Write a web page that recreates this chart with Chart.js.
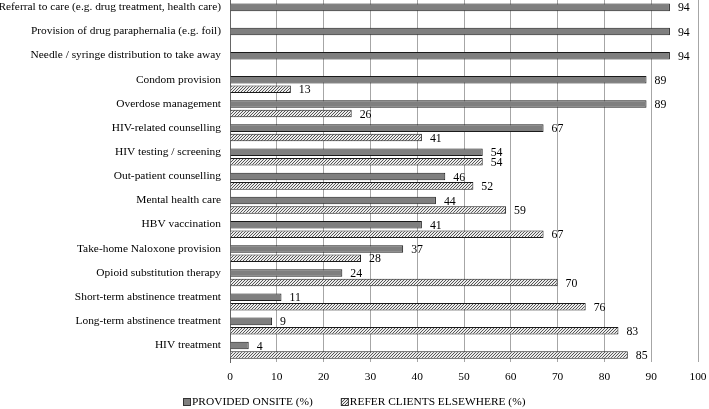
<!DOCTYPE html>
<html>
<head>
<meta charset="utf-8">
<script src="https://cdn.jsdelivr.net/npm/chart.js@4.4.1/dist/chart.umd.min.js"></script>
<style>
  body { margin: 0; background: #fff; }
  #wrap { width: 709px; height: 409px; }
</style>
</head>
<body>
<div id="wrap"><canvas id="chart" width="709" height="409"></canvas></div>
<script>
// services offered by low-threshold services, share of respondents
const categories = [
  'Referral to care (e.g. drug treatment, health care)',
  'Provision of drug paraphernalia (e.g. foil)',
  'Needle / syringe distribution to take away',
  'Condom provision',
  'Overdose management',
  'HIV-related counselling',
  'HIV testing / screening',
  'Out-patient counselling',
  'Mental health care',
  'HBV vaccination',
  'Take-home Naloxone provision',
  'Opioid substitution therapy',
  'Short-term abstinence treatment',
  'Long-term abstinence treatment',
  'HIV treatment'
];
const providedOnsite = [94, 94, 94, 89, 89, 67, 54, 46, 44, 41, 37, 24, 11, 9, 4];
const referElsewhere = [null, null, null, 13, 26, 41, 54, 52, 59, 67, 28, 70, 76, 83, 85];
const xTicks = [0, 10, 20, 30, 40, 50, 60, 70, 80, 90, 100];

const FONT = '"Liberation Serif", "Times New Roman", serif';
const FSIZE = 11.4;

// 3px tile, crisp "/" stripe
function hatchPattern() {
  const c = document.createElement('canvas');
  c.width = 3; c.height = 3;
  const g = c.getContext('2d');
  g.fillStyle = '#ececec';
  g.fillRect(0, 0, 3, 3);
  g.fillStyle = '#555';
  g.fillRect(0, 2, 1, 1);
  g.fillRect(1, 1, 1, 1);
  g.fillRect(2, 0, 1, 1);
  return g.createPattern(c, 'repeat');
}

// numbers at bar ends
const valueLabels = {
  id: 'valueLabels',
  afterDatasetsDraw(chart) {
    const ctx = chart.ctx;
    ctx.save();
    ctx.font = '11.8px ' + FONT;
    ctx.fillStyle = '#000';
    ctx.textBaseline = 'middle';
    chart.data.datasets.forEach((ds, i) => {
      chart.getDatasetMeta(i).data.forEach((bar, j) => {
        const v = ds.data[j];
        if (v == null) return;
        ctx.fillText(String(v), bar.x + 8, bar.y + 1);
      });
    });
    ctx.restore();
  }
};

// legend centred under the axis, small square keys close to the text
const bottomLegend = {
  id: 'bottomLegend',
  afterDraw(chart) {
    const ctx = chart.ctx;
    ctx.save();
    ctx.font = FSIZE + 'px ' + FONT;
    ctx.textBaseline = 'middle';
    const box = 8, gapText = 1, gapItem = 28;
    const items = chart.data.datasets.map(ds => ({ ds, w: box + gapText + ctx.measureText(ds.label).width }));
    const total = items.reduce((s, it) => s + it.w, 0) + gapItem * (items.length - 1);
    let x = Math.round((chart.width - total) / 2);
    const y = 402;
    items.forEach(it => {
      ctx.fillStyle = it.ds.backgroundColor;
      ctx.fillRect(x, y - 4, box, box);
      ctx.strokeStyle = '#333';
      ctx.lineWidth = 1;
      ctx.strokeRect(x + 0.5, y - 3.5, box - 1, box - 1);
      ctx.fillStyle = '#000';
      ctx.fillText(it.ds.label, x + box + gapText, y);
      x += it.w + gapItem;
    });
    ctx.restore();
  }
};

new Chart(document.getElementById('chart'), {
  type: 'bar',
  data: {
    labels: categories,
    datasets: [
      {
        label: 'PROVIDED ONSITE (%)',
        data: providedOnsite,
        backgroundColor: '#7f7f7f',
        borderColor: '#1a1a1a',
        borderWidth: 1,
        categoryPercentage: 0.78,
        barPercentage: 0.8
      },
      {
        label: 'REFER CLIENTS ELSEWHERE (%)',
        data: referElsewhere,
        backgroundColor: hatchPattern(),
        borderColor: '#1a1a1a',
        borderWidth: 1,
        categoryPercentage: 0.78,
        barPercentage: 0.8
      }
    ]
  },
  options: {
    indexAxis: 'y',
    responsive: false,
    animation: false,
    layout: { padding: { top: 0, right: 11, bottom: 17, left: 0 } },
    plugins: {
      legend: { display: false },
      tooltip: { enabled: false }
    },
    scales: {
      x: {
        min: 0,
        max: 100,
        afterBuildTicks: (scale) => { scale.ticks = xTicks.map(v => ({ value: v })); },
        afterFit: (scale) => { scale.paddingLeft = 0; scale.paddingRight = 0; },
        grid: { color: '#a6a6a6', drawTicks: false },
        border: { display: false },
        ticks: { color: '#000', padding: 8, font: { family: FONT, size: FSIZE } }
      },
      y: {
        afterFit: (scale) => { scale.width = 230; scale.paddingTop = 0; scale.paddingBottom = 0; },
        grid: { display: false, drawTicks: false },
        border: { display: true, color: '#666' },
        ticks: { color: '#000', padding: 9, labelOffset: -5, font: { family: FONT, size: FSIZE } }
      }
    }
  },
  plugins: [valueLabels, bottomLegend]
});
</script>
</body>
</html>
